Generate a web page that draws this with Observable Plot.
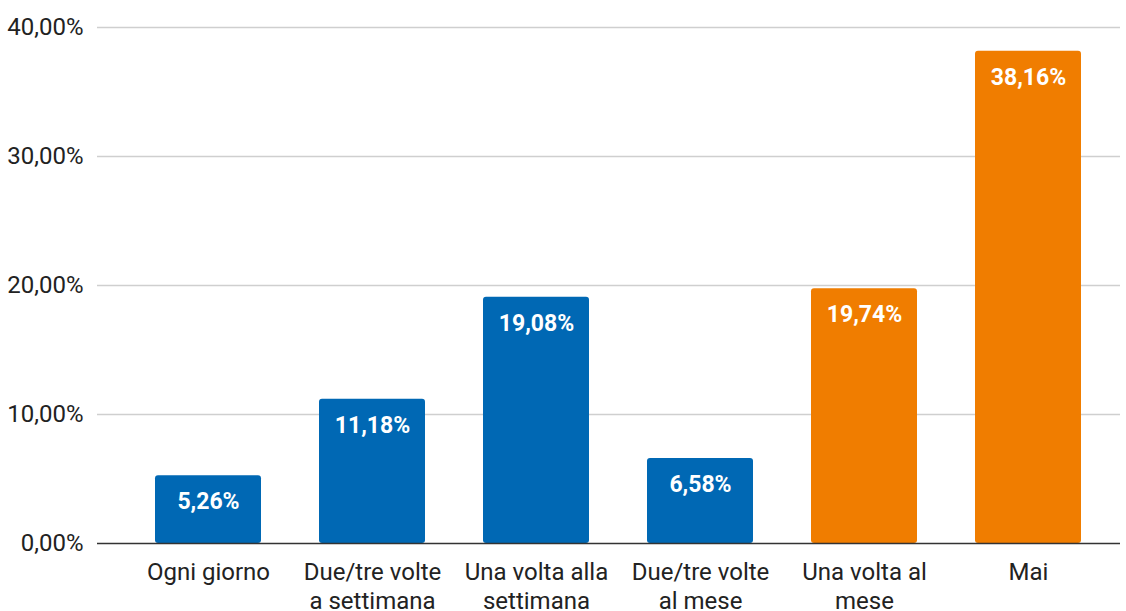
<!DOCTYPE html>
<html>
<head>
<meta charset="utf-8">
<script src="https://cdn.jsdelivr.net/npm/d3@7"></script>
<script src="https://cdn.jsdelivr.net/npm/@observablehq/plot@0.6"></script>
<style>
  html, body { margin: 0; padding: 0; background: #fff; }
  svg { display: block; }
</style>
</head>
<body>
<div id="chart"></div>
<script>
const categories = ["Ogni giorno", "Due/tre volte a settimana", "Una volta alla settimana", "Due/tre volte al mese", "Una volta al mese", "Mai"];
const categoryLabels = ["Ogni giorno", "Due/tre volte\na settimana", "Una volta alla\nsettimana", "Due/tre volte\nal mese", "Una volta al\nmese", "Mai"];
const values = [5.26, 11.18, 19.08, 6.58, 19.74, 38.16];
const groups = ["frequente", "frequente", "frequente", "frequente", "raro", "raro"];
const yTicks = [0, 10, 20, 30, 40];

const data = categories.map((c, i) => ({category: c, label: categoryLabels[i], value: values[i], group: groups[i]}));
const fmt = d => d.toFixed(2).replace(".", ",") + "%";

const chart = Plot.plot({
  width: 1126,
  height: 611,
  marginLeft: 125,
  marginRight: 16,
  marginTop: 27,
  marginBottom: 68,
  style: {fontFamily: "Roboto", fontSize: "24px", color: "#222", background: "#fff"},
  x: {domain: categories, paddingInner: 0.354, paddingOuter: 0.177, label: null},
  y: {domain: [0, 40], label: null},
  color: {domain: ["frequente", "raro"], range: ["#0068b4", "#f07d00"]},
  marks: [
    Plot.ruleY(yTicks.filter(d => d > 0), {stroke: "#cfcfcf", strokeWidth: 1.5, insetLeft: -28, insetRight: -10}),
    Plot.barY(data, {x: "category", y: "value", fill: "group", rx: 3}),
    Plot.ruleY([0], {stroke: "#333", strokeWidth: 1.5, insetLeft: -28, insetRight: -10}),
    Plot.text(data, {x: "category", y: "value", text: d => fmt(d.value), fill: "#fff", fontWeight: "bold", fontSize: 23, dy: 26, lineAnchor: "middle", letterSpacing: "0.5px"}),
    Plot.axisY({ticks: yTicks, tickFormat: fmt, tickSize: 0, tickPadding: 42, fontSize: 24, fill: "#222", label: null}),
    Plot.axisX({tickSize: 0, tickPadding: 16, tickFormat: d => categoryLabels[categories.indexOf(d)], fontSize: 24, fill: "#222", lineHeight: 1.2, label: null})
  ]
});
document.getElementById("chart").appendChild(chart);
</script>
</body>
</html>
